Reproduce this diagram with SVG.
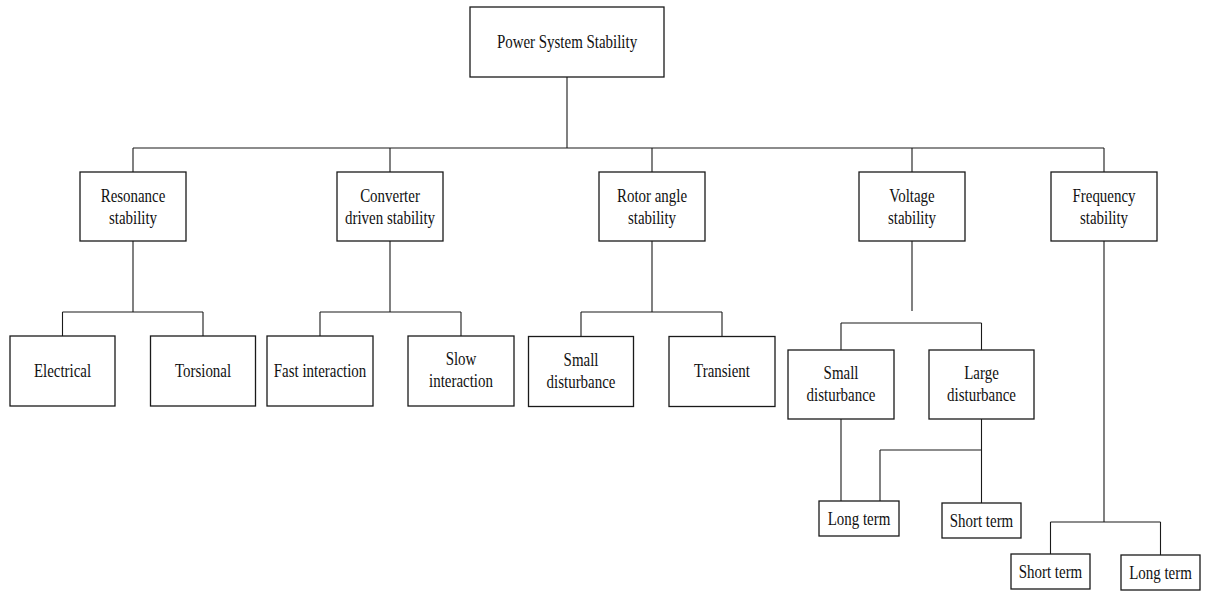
<svg xmlns="http://www.w3.org/2000/svg" width="1205" height="592" viewBox="0 0 1205 592">
<style>
.box{fill:#fff;stroke:#1a1a1a;stroke-width:1.3}
.ln{fill:none;stroke:#1a1a1a;stroke-width:1.1}
text{font-family:"Liberation Serif","Times New Roman",serif;font-size:18px;fill:#111;text-anchor:middle}
</style>
<rect width="1205" height="592" fill="#fff"/>
<g id="connectors" class="ln">
<path d="M567 77V148M133 148H1104M133 148V172M390 148V172M652 148V172M912 148V172M1104 148V172"/>
<path d="M133 241V312M62.5 312H203M62.5 312V336M203 312V336"/>
<path d="M390 241V312M320 312H461M320 312V336M461 312V336"/>
<path d="M652 241V312M581 312H722M581 312V336M722 312V336"/>
<path d="M912 241V311M841 323H981.5M841 323V350M981.5 323V350"/>
<path d="M841 419V501M981.5 419V503M880 450H981.5M880 450V501"/>
<path d="M1104 241V522M1050.5 522H1160.5M1050.5 522V554M1160.5 522V555"/>
</g>
<g id="root"><rect class="box" x="470" y="7" width="194" height="70"/><text transform="translate(567,48) scale(0.83,1)">Power System Stability</text></g>
<g id="resonance"><rect class="box" x="80" y="172" width="106" height="69"/><text transform="translate(133,202) scale(0.83,1)">Resonance</text><text transform="translate(133,224) scale(0.83,1)">stability</text></g>
<g id="converter"><rect class="box" x="337" y="172" width="106" height="69"/><text transform="translate(390,202) scale(0.83,1)">Converter</text><text transform="translate(390,224) scale(0.83,1)">driven stability</text></g>
<g id="rotor"><rect class="box" x="599" y="172" width="106" height="69"/><text transform="translate(652,202) scale(0.83,1)">Rotor angle</text><text transform="translate(652,224) scale(0.83,1)">stability</text></g>
<g id="voltage"><rect class="box" x="859" y="172" width="106" height="69"/><text transform="translate(912,202) scale(0.83,1)">Voltage</text><text transform="translate(912,224) scale(0.83,1)">stability</text></g>
<g id="frequency"><rect class="box" x="1051" y="172" width="106" height="69"/><text transform="translate(1104,202) scale(0.83,1)">Frequency</text><text transform="translate(1104,224) scale(0.83,1)">stability</text></g>
<g id="electrical"><rect class="box" x="10" y="336" width="105" height="70"/><text transform="translate(62.5,377) scale(0.83,1)">Electrical</text></g>
<g id="torsional"><rect class="box" x="150.5" y="336" width="105" height="70"/><text transform="translate(203,377) scale(0.83,1)">Torsional</text></g>
<g id="fast"><rect class="box" x="267" y="336" width="106" height="70"/><text transform="translate(320,377) scale(0.83,1)">Fast interaction</text></g>
<g id="slow"><rect class="box" x="408" y="336" width="106" height="70"/><text transform="translate(461,365) scale(0.83,1)">Slow</text><text transform="translate(461,387) scale(0.83,1)">interaction</text></g>
<g id="rotor-small"><rect class="box" x="528.5" y="336.5" width="105" height="70"/><text transform="translate(581,366) scale(0.83,1)">Small</text><text transform="translate(581,388) scale(0.83,1)">disturbance</text></g>
<g id="transient"><rect class="box" x="669" y="336.5" width="106" height="70"/><text transform="translate(722,377) scale(0.83,1)">Transient</text></g>
<g id="volt-small"><rect class="box" x="788" y="350" width="106" height="69"/><text transform="translate(841,379) scale(0.83,1)">Small</text><text transform="translate(841,401) scale(0.83,1)">disturbance</text></g>
<g id="volt-large"><rect class="box" x="929" y="350" width="105" height="69"/><text transform="translate(981.5,379) scale(0.83,1)">Large</text><text transform="translate(981.5,401) scale(0.83,1)">disturbance</text></g>
<g id="volt-long"><rect class="box" x="819" y="501" width="80" height="35"/><text transform="translate(859,525) scale(0.83,1)">Long term</text></g>
<g id="volt-short"><rect class="box" x="942" y="503" width="79" height="35"/><text transform="translate(981.5,527) scale(0.83,1)">Short term</text></g>
<g id="freq-short"><rect class="box" x="1011" y="554" width="79" height="35"/><text transform="translate(1050.5,578) scale(0.83,1)">Short term</text></g>
<g id="freq-long"><rect class="box" x="1121" y="555" width="79" height="35"/><text transform="translate(1160.5,579) scale(0.83,1)">Long term</text></g>
</svg>
